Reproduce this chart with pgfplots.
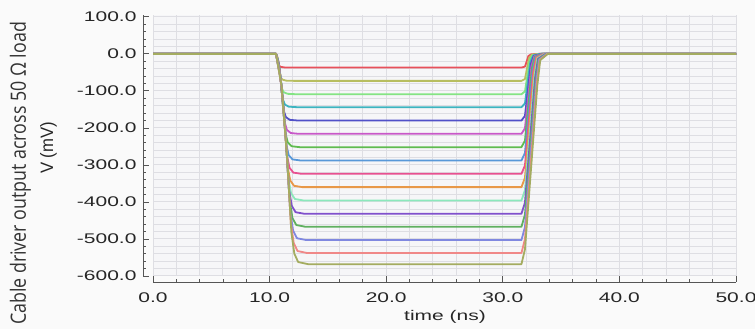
\documentclass[border=0pt]{standalone}
\usepackage{pgfplots}
\pgfplotsset{compat=1.18}
\usepackage{fontspec}
\setmainfont{Liberation Sans}
\newfontfamily\tickfont[FakeStretch=1.5]{Liberation Sans}
\newfontfamily\labelfont{Open Sans}
\definecolor{bgout}{RGB}{250,250,250}
\definecolor{bgin}{RGB}{246,246,248}
\definecolor{gridc}{RGB}{222,222,227}
\definecolor{axc}{RGB}{85,85,85}
\definecolor{c1}{HTML}{E8505A}
\definecolor{c2}{HTML}{B8BE60}
\definecolor{c3}{HTML}{84E484}
\definecolor{c4}{HTML}{3CB4C0}
\definecolor{c5}{HTML}{5050C8}
\definecolor{c6}{HTML}{C858C8}
\definecolor{c7}{HTML}{60BC50}
\definecolor{c8}{HTML}{5898D8}
\definecolor{c9}{HTML}{E85090}
\definecolor{c10}{HTML}{E89848}
\definecolor{c11}{HTML}{8CE8BC}
\definecolor{c12}{HTML}{8050CC}
\definecolor{c13}{HTML}{60B060}
\definecolor{c14}{HTML}{8088E0}
\definecolor{c15}{HTML}{F08888}
\definecolor{c16}{HTML}{A4AC60}
\begin{document}
\begin{tikzpicture}
\fill[bgout] (0,0) rectangle (755pt,329pt);
\path[use as bounding box] (0,0) rectangle (755pt,329pt);
\begin{axis}[
  at={(153pt,53pt)}, anchor=south west,
  scale only axis, width=583pt, height=261pt,
  xmin=0, xmax=50, ymin=-600, ymax=105,
  axis lines*=left,
  axis x line shift=6pt, axis y line shift=10pt,
  axis line style={draw=axc, line width=0.9pt},
  axis background/.style={fill=bgin},
  xtick={0,10,20,30,40,50},
  ytick={-600,-500,-400,-300,-200,-100,0,100},
  minor tick num=4,
  tick align=inside,
  major tick length=6pt, minor tick length=3pt,
  every tick/.style={draw=axc, line width=0.8pt},
  grid=both,
  major grid style={draw=gridc, line width=1pt},
  minor grid style={draw=gridc, line width=1pt},
  scaled ticks=false,
  tick label style={font=\tickfont\fontsize{14}{16}\selectfont, text=black!85},
  /pgf/number format/assume math mode=true,
  /pgf/number format/fixed, /pgf/number format/fixed zerofill, /pgf/number format/precision=1,
  yticklabel style={xshift=-3pt},
  xticklabel style={yshift=-7pt},
  every axis plot/.append style={line width=1.8pt, line join=round, no markers},
]
\addplot[c1] coordinates {(0,0)(10.55,0)(10.64,-5.6)(10.74,-18.5)(10.81,-31.5)(10.95,-35.2)(11.28,-36.6)(12.08,-37)(31.6,-37)(31.9,-34.4)(32.2,-5.6)(32.45,-1.1)(33.1,0)(50,0)};
\addplot[c2] coordinates {(0,0)(10.55,0)(10.69,-11)(10.83,-36.5)(10.93,-62)(11.09,-69.4)(11.42,-72.3)(12.17,-73)(31.6,-73)(31.9,-67.9)(32.25,-11)(32.5,-2.2)(33.15,0)(50,0)};
\addplot[c3] coordinates {(0,0)(10.55,0)(10.72,-16.4)(10.91,-54.5)(11.04,-92.7)(11.21,-103.6)(11.54,-107.9)(12.25,-109)(31.6,-109)(31.9,-101.4)(32.31,-16.4)(32.56,-3.3)(33.21,0)(50,0)};
\addplot[c4] coordinates {(0,0)(10.55,0)(10.75,-21.6)(10.97,-72)(11.13,-122.4)(11.31,-136.8)(11.64,-142.6)(12.33,-144)(31.6,-144)(31.9,-133.9)(32.36,-21.6)(32.61,-4.3)(33.26,0)(50,0)};
\addplot[c5] coordinates {(0,0)(10.55,0)(10.78,-27)(11.03,-90)(11.21,-153)(11.40,-171)(11.73,-178.2)(12.41,-180)(31.6,-180)(31.9,-167.4)(32.41,-27)(32.66,-5.4)(33.31,0)(50,0)};
\addplot[c6] coordinates {(0,0)(10.55,0)(10.81,-32.4)(11.09,-108)(11.29,-183.6)(11.48,-205.2)(11.81,-213.8)(12.49,-216)(31.6,-216)(31.9,-200.9)(32.46,-32.4)(32.71,-6.5)(33.36,0)(50,0)};
\addplot[c7] coordinates {(0,0)(10.55,0)(10.84,-37.8)(11.14,-126)(11.36,-214.2)(11.56,-239.4)(11.89,-249.5)(12.58,-252)(31.6,-252)(31.9,-234.4)(32.51,-37.8)(32.76,-7.6)(33.41,0)(50,0)};
\addplot[c8] coordinates {(0,0)(10.55,0)(10.86,-43.2)(11.19,-144)(11.43,-244.8)(11.64,-273.6)(11.97,-285.1)(12.66,-288)(31.6,-288)(31.9,-267.8)(32.56,-43.2)(32.81,-8.6)(33.46,0)(50,0)};
\addplot[c9] coordinates {(0,0)(10.55,0)(10.88,-48.6)(11.23,-162)(11.49,-275.4)(11.71,-307.8)(12.04,-320.8)(12.74,-324)(31.6,-324)(31.9,-301.3)(32.61,-48.6)(32.86,-9.7)(33.51,0)(50,0)};
\addplot[c10] coordinates {(0,0)(10.55,0)(10.90,-54)(11.28,-180)(11.55,-306)(11.77,-342)(12.10,-356.4)(12.82,-360)(31.6,-360)(31.9,-334.8)(32.66,-54)(32.91,-10.8)(33.56,0)(50,0)};
\addplot[c11] coordinates {(0,0)(10.55,0)(10.92,-59.4)(11.32,-198)(11.61,-336.6)(11.84,-376.2)(12.17,-392)(12.91,-396)(31.6,-396)(31.9,-368.3)(32.72,-59.4)(32.97,-11.9)(33.62,0)(50,0)};
\addplot[c12] coordinates {(0,0)(10.55,0)(10.94,-64.8)(11.36,-216)(11.67,-367.2)(11.90,-410.4)(12.23,-427.7)(12.99,-432)(31.6,-432)(31.9,-401.8)(32.77,-64.8)(33.02,-13)(33.67,0)(50,0)};
\addplot[c13] coordinates {(0,0)(10.55,0)(10.96,-70)(11.40,-233.5)(11.72,-397)(11.96,-443.7)(12.29,-462.3)(13.07,-467)(31.6,-467)(31.9,-434.3)(32.82,-70)(33.07,-14)(33.72,0)(50,0)};
\addplot[c14] coordinates {(0,0)(10.55,0)(10.98,-75.5)(11.44,-251.5)(11.77,-427.6)(12.02,-477.9)(12.35,-498)(13.15,-503)(31.6,-503)(31.9,-467.8)(32.87,-75.5)(33.12,-15.1)(33.77,0)(50,0)};
\addplot[c15] coordinates {(0,0)(10.55,0)(11.00,-80.7)(11.48,-269)(11.82,-457.3)(12.07,-511.1)(12.40,-532.6)(13.23,-538)(31.6,-538)(31.9,-500.3)(32.92,-80.7)(33.17,-16.1)(33.82,0)(50,0)};
\addplot[c16] coordinates {(0,0)(10.55,0)(11.02,-85.2)(11.51,-284)(11.87,-482.8)(12.12,-539.6)(12.45,-562.3)(13.3,-568)(31.6,-568)(31.9,-528.2)(32.96,-85.2)(33.21,-17)(33.86,0)(50,0)};
\end{axis}
\node[anchor=base, text=black!85] at (445pt,8pt) {\tickfont\fontsize{14}{16}\selectfont time (ns)};
\node[rotate=90, anchor=base, inner sep=0pt, text=black!85] at (53pt,181pt) {\resizebox{52pt}{13pt}{V (mV)}};
\node[rotate=90, anchor=base, inner sep=0pt, text=black!80] at (26pt,155.5pt) {\resizebox{303pt}{16pt}{\labelfont Cable driver output across 50 Ω load}};
\end{tikzpicture}
\end{document}
